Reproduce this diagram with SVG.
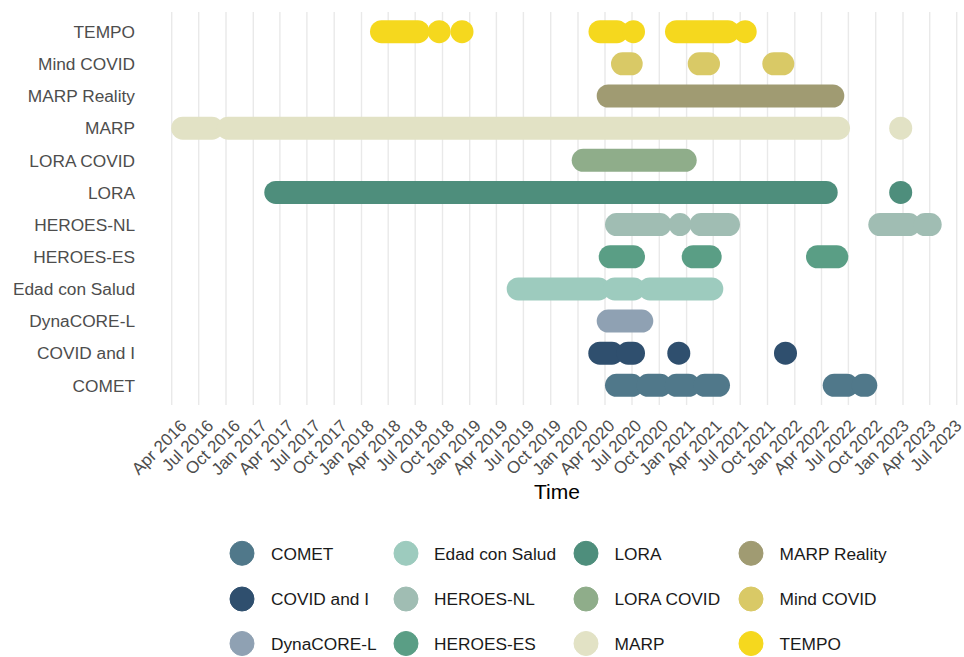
<svg xmlns="http://www.w3.org/2000/svg" width="964" height="657" viewBox="0 0 964 657">
<style>
.grid{stroke:#e9e9e9;stroke-width:1.4;fill:none}
.bar{stroke-width:23;stroke-linecap:round;fill:none}
.ylab{font-family:"Liberation Sans",Arial,sans-serif;font-size:17.3px;fill:#4d4d4d;text-anchor:end}
.xlab{font-family:"Liberation Sans",Arial,sans-serif;font-size:17px;fill:#4d4d4d;text-anchor:end}
.leg{font-family:"Liberation Sans",Arial,sans-serif;font-size:17.3px;fill:#1a1a1a}
.title{font-family:"Liberation Sans",Arial,sans-serif;font-size:21px;fill:#000;text-anchor:middle}
.c-comet{stroke:#50788a;fill:#50788a}
.c-covid{stroke:#2f4f6e;fill:#2f4f6e}
.c-dyna{stroke:#8fa1b3;fill:#8fa1b3}
.c-edad{stroke:#9dcbbe;fill:#9dcbbe}
.c-hnl{stroke:#a0bdb3;fill:#a0bdb3}
.c-hes{stroke:#5a9e85;fill:#5a9e85}
.c-lora{stroke:#4e8e7c;fill:#4e8e7c}
.c-loracovid{stroke:#8fad8a;fill:#8fad8a}
.c-marp{stroke:#e2e2c5;fill:#e2e2c5}
.c-marpr{stroke:#a09b72;fill:#a09b72}
.c-mind{stroke:#d9c966;fill:#d9c966}
.c-tempo{stroke:#f5d81e;fill:#f5d81e}
</style>
<rect width="964" height="657" fill="#ffffff"/>
<g id="grid">
<line class="grid" x1="171.7" y1="12" x2="171.7" y2="405"/>
<line class="grid" x1="198.7" y1="12" x2="198.7" y2="405"/>
<line class="grid" x1="226.0" y1="12" x2="226.0" y2="405"/>
<line class="grid" x1="253.3" y1="12" x2="253.3" y2="405"/>
<line class="grid" x1="279.9" y1="12" x2="279.9" y2="405"/>
<line class="grid" x1="306.9" y1="12" x2="306.9" y2="405"/>
<line class="grid" x1="334.2" y1="12" x2="334.2" y2="405"/>
<line class="grid" x1="361.5" y1="12" x2="361.5" y2="405"/>
<line class="grid" x1="388.2" y1="12" x2="388.2" y2="405"/>
<line class="grid" x1="415.2" y1="12" x2="415.2" y2="405"/>
<line class="grid" x1="442.5" y1="12" x2="442.5" y2="405"/>
<line class="grid" x1="469.7" y1="12" x2="469.7" y2="405"/>
<line class="grid" x1="496.4" y1="12" x2="496.4" y2="405"/>
<line class="grid" x1="523.4" y1="12" x2="523.4" y2="405"/>
<line class="grid" x1="550.7" y1="12" x2="550.7" y2="405"/>
<line class="grid" x1="578.0" y1="12" x2="578.0" y2="405"/>
<line class="grid" x1="605.0" y1="12" x2="605.0" y2="405"/>
<line class="grid" x1="632.0" y1="12" x2="632.0" y2="405"/>
<line class="grid" x1="659.3" y1="12" x2="659.3" y2="405"/>
<line class="grid" x1="686.6" y1="12" x2="686.6" y2="405"/>
<line class="grid" x1="713.2" y1="12" x2="713.2" y2="405"/>
<line class="grid" x1="740.2" y1="12" x2="740.2" y2="405"/>
<line class="grid" x1="767.5" y1="12" x2="767.5" y2="405"/>
<line class="grid" x1="794.8" y1="12" x2="794.8" y2="405"/>
<line class="grid" x1="821.5" y1="12" x2="821.5" y2="405"/>
<line class="grid" x1="848.4" y1="12" x2="848.4" y2="405"/>
<line class="grid" x1="875.7" y1="12" x2="875.7" y2="405"/>
<line class="grid" x1="903.0" y1="12" x2="903.0" y2="405"/>
<line class="grid" x1="929.7" y1="12" x2="929.7" y2="405"/>
<line class="grid" x1="956.7" y1="12" x2="956.7" y2="405"/>
</g>
<g id="connectors">
<g id="bars-TEMPO" class="c-tempo">
<line class="bar" x1="381.5" y1="31.7" x2="418" y2="31.7"/>
<line class="bar" x1="439.2" y1="31.7" x2="439.2" y2="31.7"/>
<line class="bar" x1="462" y1="31.7" x2="462" y2="31.7"/>
<line class="bar" x1="600" y1="31.7" x2="617" y2="31.7"/>
<line class="bar" x1="633.5" y1="31.7" x2="633.5" y2="31.7"/>
<line class="bar" x1="676.5" y1="31.7" x2="728" y2="31.7"/>
<line class="bar" x1="745.2" y1="31.7" x2="745.2" y2="31.7"/>
</g>
<g id="bars-MindCOVID" class="c-mind">
<line class="bar" x1="622.5" y1="63.85" x2="631.2" y2="63.85"/>
<line class="bar" x1="699.2" y1="63.85" x2="708.5" y2="63.85"/>
<line class="bar" x1="773.8" y1="63.85" x2="782.8" y2="63.85"/>
</g>
<g id="bars-MARPReality" class="c-marpr">
<line class="bar" x1="608.2" y1="96" x2="832.8" y2="96"/>
</g>
<g id="bars-MARP" class="c-marp">
<line class="bar" x1="182.7" y1="128.15" x2="212" y2="128.15"/>
<line class="bar" x1="228" y1="128.15" x2="838.5" y2="128.15"/>
<line class="bar" x1="900.7" y1="128.15" x2="900.7" y2="128.15"/>
</g>
<g id="bars-LORACOVID" class="c-loracovid">
<line class="bar" x1="583.2" y1="160.3" x2="685.2" y2="160.3"/>
</g>
<g id="bars-LORA" class="c-lora">
<line class="bar" x1="275.8" y1="192.45" x2="826.2" y2="192.45"/>
<line class="bar" x1="900.7" y1="192.45" x2="900.7" y2="192.45"/>
</g>
<g id="bars-HEROES-NL" class="c-hnl">
<line class="bar" x1="616.5" y1="224.6" x2="660" y2="224.6"/>
<line class="bar" x1="680" y1="224.6" x2="680" y2="224.6"/>
<line class="bar" x1="701" y1="224.6" x2="728.5" y2="224.6"/>
<line class="bar" x1="879.8" y1="224.6" x2="909" y2="224.6"/>
<line class="bar" x1="925" y1="224.6" x2="930.2" y2="224.6"/>
</g>
<g id="bars-HEROES-ES" class="c-hes">
<line class="bar" x1="610.2" y1="256.75" x2="633.5" y2="256.75"/>
<line class="bar" x1="693.2" y1="256.75" x2="710.2" y2="256.75"/>
<line class="bar" x1="817.5" y1="256.75" x2="836.8" y2="256.75"/>
</g>
<g id="bars-Edad" class="c-edad">
<line class="bar" x1="518.2" y1="288.9" x2="598.7" y2="288.9"/>
<line class="bar" x1="614.7" y1="288.9" x2="633.7" y2="288.9"/>
<line class="bar" x1="649.7" y1="288.9" x2="711.8" y2="288.9"/>
</g>
<g id="bars-DynaCORE-L" class="c-dyna">
<line class="bar" x1="608.2" y1="321.05" x2="641.8" y2="321.05"/>
</g>
<g id="bars-COVIDandI" class="c-covid">
<line class="bar" x1="599.8" y1="353.2" x2="612" y2="353.2"/>
<line class="bar" x1="628" y1="353.2" x2="633.5" y2="353.2"/>
<line class="bar" x1="678.8" y1="353.2" x2="678.8" y2="353.2"/>
<line class="bar" x1="785.5" y1="353.2" x2="785.5" y2="353.2"/>
</g>
<g id="bars-COMET" class="c-comet">
<line class="bar" x1="616.5" y1="385.35" x2="632" y2="385.35"/>
<line class="bar" x1="648" y1="385.35" x2="660.3" y2="385.35"/>
<line class="bar" x1="676.3" y1="385.35" x2="688.7" y2="385.35"/>
<line class="bar" x1="704.7" y1="385.35" x2="718.5" y2="385.35"/>
<line class="bar" x1="834.2" y1="385.35" x2="847" y2="385.35"/>
<line class="bar" x1="863" y1="385.35" x2="865.8" y2="385.35"/>
</g>
</g>
<g id="y-axis">
<text class="ylab" x="135" y="37.9">TEMPO</text>
<text class="ylab" x="135" y="70.05">Mind COVID</text>
<text class="ylab" x="135" y="102.2">MARP Reality</text>
<text class="ylab" x="135" y="134.35">MARP</text>
<text class="ylab" x="135" y="166.5">LORA COVID</text>
<text class="ylab" x="135" y="198.65">LORA</text>
<text class="ylab" x="135" y="230.8">HEROES-NL</text>
<text class="ylab" x="135" y="262.95">HEROES-ES</text>
<text class="ylab" x="135" y="295.1">Edad con Salud</text>
<text class="ylab" x="135" y="327.25">DynaCORE-L</text>
<text class="ylab" x="135" y="359.4">COVID and I</text>
<text class="ylab" x="135" y="391.55">COMET</text>
</g>
<g id="x-axis">
<text class="xlab" transform="translate(187.6,426.9) rotate(-45)">Apr 2016</text>
<text class="xlab" transform="translate(214.35,426.9) rotate(-45)">Jul 2016</text>
<text class="xlab" transform="translate(241.1,426.9) rotate(-45)">Oct 2016</text>
<text class="xlab" transform="translate(267.85,426.9) rotate(-45)">Jan 2017</text>
<text class="xlab" transform="translate(294.6,426.9) rotate(-45)">Apr 2017</text>
<text class="xlab" transform="translate(321.35,426.9) rotate(-45)">Jul 2017</text>
<text class="xlab" transform="translate(348.1,426.9) rotate(-45)">Oct 2017</text>
<text class="xlab" transform="translate(374.85,426.9) rotate(-45)">Jan 2018</text>
<text class="xlab" transform="translate(401.6,426.9) rotate(-45)">Apr 2018</text>
<text class="xlab" transform="translate(428.35,426.9) rotate(-45)">Jul 2018</text>
<text class="xlab" transform="translate(455.1,426.9) rotate(-45)">Oct 2018</text>
<text class="xlab" transform="translate(481.85,426.9) rotate(-45)">Jan 2019</text>
<text class="xlab" transform="translate(508.6,426.9) rotate(-45)">Apr 2019</text>
<text class="xlab" transform="translate(535.35,426.9) rotate(-45)">Jul 2019</text>
<text class="xlab" transform="translate(562.1,426.9) rotate(-45)">Oct 2019</text>
<text class="xlab" transform="translate(588.85,426.9) rotate(-45)">Jan 2020</text>
<text class="xlab" transform="translate(615.6,426.9) rotate(-45)">Apr 2020</text>
<text class="xlab" transform="translate(642.35,426.9) rotate(-45)">Jul 2020</text>
<text class="xlab" transform="translate(669.1,426.9) rotate(-45)">Oct 2020</text>
<text class="xlab" transform="translate(695.85,426.9) rotate(-45)">Jan 2021</text>
<text class="xlab" transform="translate(722.6,426.9) rotate(-45)">Apr 2021</text>
<text class="xlab" transform="translate(749.35,426.9) rotate(-45)">Jul 2021</text>
<text class="xlab" transform="translate(776.1,426.9) rotate(-45)">Oct 2021</text>
<text class="xlab" transform="translate(802.85,426.9) rotate(-45)">Jan 2022</text>
<text class="xlab" transform="translate(829.6,426.9) rotate(-45)">Apr 2022</text>
<text class="xlab" transform="translate(856.35,426.9) rotate(-45)">Jul 2022</text>
<text class="xlab" transform="translate(883.1,426.9) rotate(-45)">Oct 2022</text>
<text class="xlab" transform="translate(909.85,426.9) rotate(-45)">Jan 2023</text>
<text class="xlab" transform="translate(936.6,426.9) rotate(-45)">Apr 2023</text>
<text class="xlab" transform="translate(962.8,426.9) rotate(-45)">Jul 2023</text>
<text class="title" x="557" y="498.5">Time</text>
</g>
<g id="legend">
<g id="legend-COMET"><circle class="c-comet" cx="242" cy="553.3" r="12"/><text class="leg" x="271" y="559.5">COMET</text></g>
<g id="legend-COVIDandI"><circle class="c-covid" cx="242" cy="599" r="12"/><text class="leg" x="271" y="605.2">COVID and I</text></g>
<g id="legend-DynaCORE-L"><circle class="c-dyna" cx="242" cy="643.5" r="12"/><text class="leg" x="271" y="649.7">DynaCORE-L</text></g>
<g id="legend-Edad"><circle class="c-edad" cx="406" cy="553.3" r="12"/><text class="leg" x="434" y="559.5">Edad con Salud</text></g>
<g id="legend-HEROES-NL"><circle class="c-hnl" cx="406" cy="599" r="12"/><text class="leg" x="434" y="605.2">HEROES-NL</text></g>
<g id="legend-HEROES-ES"><circle class="c-hes" cx="406" cy="643.5" r="12"/><text class="leg" x="434" y="649.7">HEROES-ES</text></g>
<g id="legend-LORA"><circle class="c-lora" cx="586" cy="553.3" r="12"/><text class="leg" x="614.5" y="559.5">LORA</text></g>
<g id="legend-LORACOVID"><circle class="c-loracovid" cx="586" cy="599" r="12"/><text class="leg" x="614.5" y="605.2">LORA COVID</text></g>
<g id="legend-MARP"><circle class="c-marp" cx="586" cy="643.5" r="12"/><text class="leg" x="614.5" y="649.7">MARP</text></g>
<g id="legend-MARPReality"><circle class="c-marpr" cx="751" cy="553.3" r="12"/><text class="leg" x="779.5" y="559.5">MARP Reality</text></g>
<g id="legend-MindCOVID"><circle class="c-mind" cx="751" cy="599" r="12"/><text class="leg" x="779.5" y="605.2">Mind COVID</text></g>
<g id="legend-TEMPO"><circle class="c-tempo" cx="751" cy="643.5" r="12"/><text class="leg" x="779.5" y="649.7">TEMPO</text></g>
</g>
</svg>
